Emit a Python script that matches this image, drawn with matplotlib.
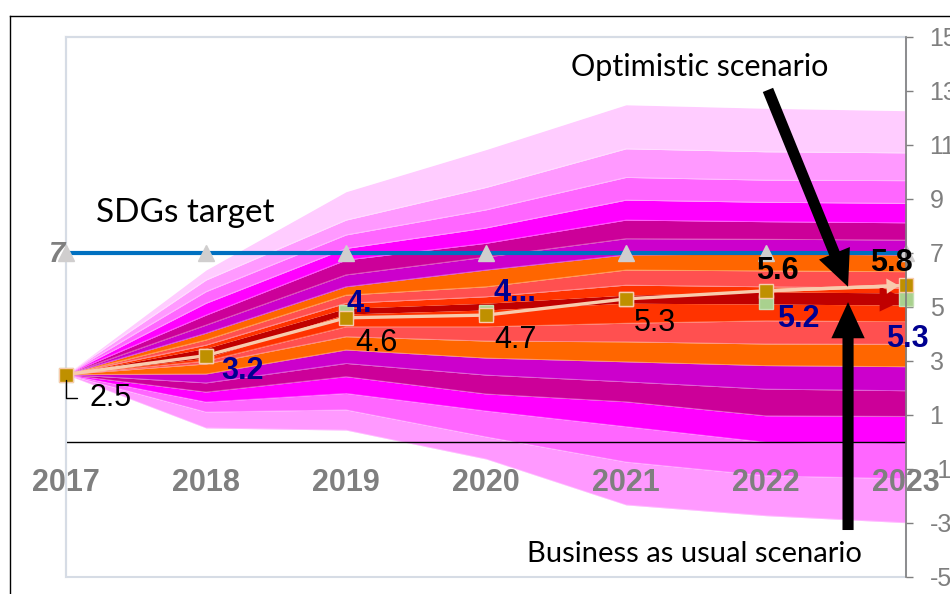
import matplotlib.pyplot as plt
from matplotlib.patches import Rectangle
from matplotlib.lines import Line2D

plt.rcParams['font.family'] = ['Liberation Sans', 'DejaVu Sans']
plt.rcParams['axes.unicode_minus'] = False

years = ['2017', '2018', '2019', '2020', '2021', '2022', '2023']
sdg_target = [7, 7, 7, 7, 7, 7, 7]
optimistic = [2.5, 3.2, 4.6, 4.7, 5.3, 5.6, 5.8]
business_as_usual = [2.5, 3.2, 4.8, 4.8, 5.3, 5.2, 5.3]
opt_labels = ['2.5', '', '4.6', '4.7', '5.3', '5.6', '5.8']
bau_labels = ['', '3.2', '4.', '4...', '', '5.2', '5.3']

# fan chart band edges, from the centre outwards
fan_upper = [
    [2.5, 3.47, 4.95, 5.14, 5.44, 5.56, 5.52],
    [2.5, 3.59, 5.14, 5.38, 5.81, 5.75, 5.70],
    [2.5, 3.78, 5.44, 5.75, 6.37, 6.34, 6.31],
    [2.5, 4.03, 5.75, 6.37, 6.93, 6.96, 6.93],
    [2.5, 4.33, 6.19, 6.85, 7.53, 7.51, 7.48],
    [2.5, 4.70, 6.74, 7.36, 8.22, 8.16, 8.12],
    [2.5, 5.14, 7.17, 7.93, 8.96, 8.88, 8.84],
    [2.5, 5.57, 7.67, 8.60, 9.80, 9.70, 9.68],
    [2.5, 6.00, 8.22, 9.43, 10.86, 10.75, 10.71],
    [2.5, 6.37, 9.27, 10.83, 12.49, 12.36, 12.27],
]
fan_lower = [
    [2.5, 3.11, 4.74, 4.89, 5.14, 5.11, 5.07],
    [2.5, 3.00, 4.27, 4.27, 4.40, 4.49, 4.46],
    [2.5, 2.89, 3.90, 3.74, 3.71, 3.63, 3.62],
    [2.5, 2.52, 3.41, 3.11, 2.97, 2.83, 2.79],
    [2.5, 2.19, 2.91, 2.48, 2.23, 1.96, 1.90],
    [2.5, 1.85, 2.42, 1.78, 1.49, 0.97, 0.95],
    [2.5, 1.48, 1.80, 1.15, 0.57, -0.01, -0.06],
    [2.5, 1.11, 1.19, 0.19, -0.74, -1.25, -1.36],
    [2.5, 0.52, 0.44, -0.63, -2.33, -2.73, -2.99],
]
centre_color = '#C00000'
band_colors = ['#FF3300', '#FF5050', '#FF6600', '#CC00CC', '#CC0099',
               '#FF00FF', '#FF66FF', '#FF99FF', '#FFCCFF']

GREY = '#7F7F7F'
NAVY = '#000090'

fig = plt.figure(figsize=(9.5, 5.94), dpi=100)
ax = fig.add_axes([66 / 950, 17 / 594, 840 / 950, 540 / 594])
x = list(range(len(years)))

# spines first: moving a spine resets the ticks
ax.spines['bottom'].set_position(('data', 0))
ax.spines['bottom'].set_visible(False)
for s in ['left', 'top']:
    ax.spines[s].set_color('#D6DCE5')
    ax.spines[s].set_linewidth(1.5)
ax.spines['right'].set_color(GREY)
ax.spines['right'].set_linewidth(1.2)
ax.spines['right'].set_zorder(7)

# fan
ax.fill_between(x, fan_lower[0], fan_upper[0], color=centre_color, lw=0, zorder=1)
for i in range(1, len(fan_upper)):
    ax.fill_between(x, fan_upper[i - 1], fan_upper[i], color=band_colors[i - 1], lw=0, zorder=1)
for i in range(1, len(fan_lower)):
    ax.fill_between(x, fan_lower[i], fan_lower[i - 1], color=band_colors[i - 1], lw=0, zorder=1)
for edge in fan_upper[1:] + fan_lower[1:]:
    ax.plot(x, edge, color='white', lw=0.6, alpha=0.35, zorder=1.5)
mid = (fan_upper[0][-1] + fan_lower[0][-1]) / 2
ax.annotate('', xy=(x[-1], mid), xytext=(x[-2] + 0.5, mid),
            arrowprops=dict(arrowstyle='simple,head_length=1.9,head_width=1.8,tail_width=0.1',
                            mutation_scale=10, color=centre_color, lw=0, shrinkA=0, shrinkB=0),
            zorder=2)

ax.axhline(0, color='black', lw=1, zorder=2.5)

# SDG target
ax.plot(x, sdg_target, color='#0070C0', lw=3, zorder=3)
ax.plot(x, sdg_target, ls='none', marker='^', ms=11, color='#D0CECE', zorder=4, clip_on=False)
ax.annotate('7', xy=(0, sdg_target[0]), xytext=(-9, -9), textcoords='offset pixels',
            ha='center', va='baseline', fontsize=21, fontweight='bold', style='italic',
            color=GREY, zorder=3.5, annotation_clip=False)

# scenarios
ax.plot(x, business_as_usual, ls='none', marker='s', ms=9.5, color='#A9D18E',
        mec='#C5E0B4', mew=1, zorder=5, clip_on=False)
ax.plot(x, optimistic, color='#F8CBAD', lw=2.4, zorder=5.5)
ax.annotate('', xy=(x[-1], optimistic[-1]), xytext=(x[-2], optimistic[-2]),
            arrowprops=dict(arrowstyle='simple,head_length=0.9,head_width=1.1,tail_width=0.24',
                            mutation_scale=10, color='#F8CBAD', lw=0, shrinkA=0, shrinkB=5),
            zorder=5.6)
ax.plot(x, optimistic, ls='none', marker='s', ms=9.5, color='#BF9000',
        mec='#F8CBAD', mew=1, zorder=6, clip_on=False)

# data labels
opt_offsets = [(44.5, -31), None, (30, -33), (29.5, -32.5), (29, -32), (11.5, 11.5), (-14.5, 14)]
for i, lab in enumerate(opt_labels):
    if not lab:
        continue
    bold = i >= 5
    kw = {}
    if i == 0:
        kw['arrowprops'] = dict(arrowstyle='-', connectionstyle='angle,angleA=0,angleB=90,rad=0',
                                color='black', lw=1, shrinkA=7, shrinkB=4)
    ax.annotate(lab, xy=(x[i], optimistic[i]), xytext=opt_offsets[i], textcoords='offset pixels',
                ha='center', va='baseline', fontsize=22,
                fontweight='bold' if bold else 'normal', color='black', zorder=8, **kw)

bau_offsets = [None, (37, -23.6), (13, 0), (29, 11), None, (32, -25.4), (1.5, -48)]
for i, lab in enumerate(bau_labels):
    if not lab:
        continue
    ax.annotate(lab, xy=(x[i], business_as_usual[i]), xytext=bau_offsets[i],
                textcoords='offset pixels', ha='center', va='baseline', fontsize=22,
                fontweight='bold', color=NAVY, zorder=8, annotation_clip=False)

# callouts
note_font = ['Lato', 'DejaVu Sans']
ax.text(0.214, 8.16, 'SDGs target', fontsize=24, family=note_font, va='baseline', zorder=9)
ax.text(3.605, 13.56, 'Optimistic scenario', fontsize=22, family=note_font, va='baseline', zorder=9)
ax.text(3.29, -4.43, 'Business as usual scenario', fontsize=21, family=note_font,
        va='baseline', zorder=9)
black_arrow = dict(arrowstyle='simple,head_length=2.6,head_width=2.4,tail_width=0.8',
                   mutation_scale=10, color='black', lw=0, shrinkA=0, shrinkB=0)
ax.annotate('', xy=(5.586, 5.75), xytext=(5.014, 13.04), arrowprops=black_arrow, zorder=9)
ax.annotate('', xy=(5.586, 5.18), xytext=(5.586, -3.26), arrowprops=black_arrow, zorder=9)

# axes
ax.set_xlim(0, 6)
ax.set_ylim(-5, 15)
ax.set_xticks(x, years)
ax.set_xticks([0, 3, 6], minor=True)
ax.tick_params(axis='x', which='major', length=0, pad=19, labelsize=22, labelcolor=GREY)
ax.tick_params(axis='x', which='minor', length=6.5, width=1, color='black', direction='out')
for lab in ax.get_xticklabels():
    lab.set_fontweight('bold')
ax.yaxis.tick_right()
ax.set_yticks(range(-5, 16, 2))
ax.tick_params(axis='y', which='both', length=5, width=1, color=GREY, labelcolor=GREY,
               labelsize=18, pad=12, direction='out')
ax.add_patch(Rectangle((0, 0), 1, 1, transform=ax.transAxes, fill=False,
                       ec='#D6DCE5', lw=1.5, zorder=0.5, clip_on=False))

# chart area border
fig.add_artist(Line2D([10 / 950, 10 / 950], [0, 1 - 16 / 594], color='black', lw=1))
fig.add_artist(Line2D([10 / 950, 1], [1 - 16 / 594, 1 - 16 / 594], color='black', lw=1))

fig.savefig('out.png', dpi=100)
